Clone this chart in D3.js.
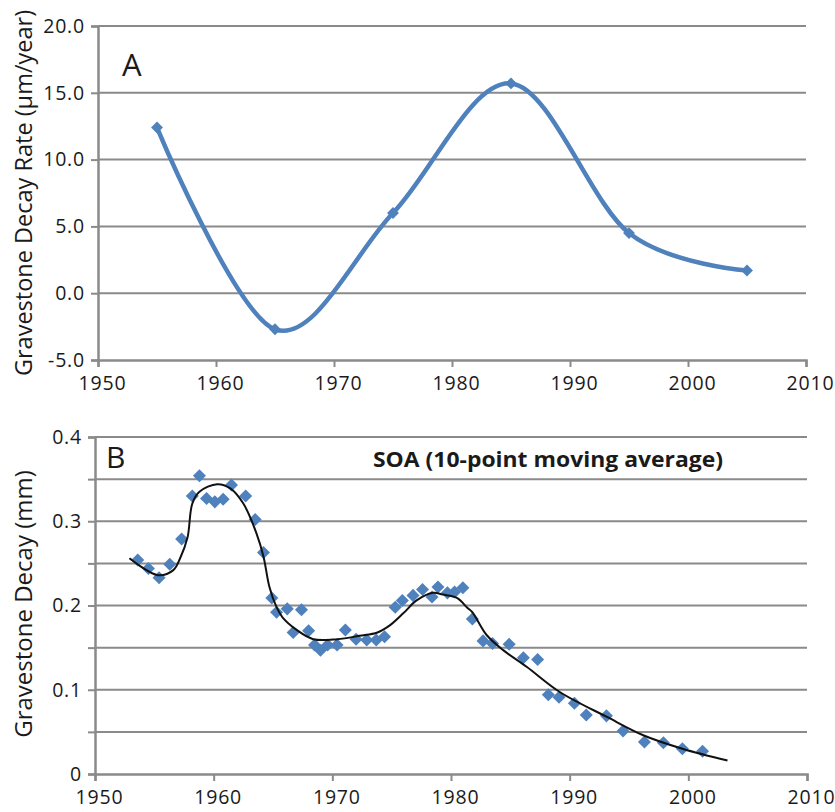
<!DOCTYPE html>
<html>
<head>
<meta charset="utf-8">
<script src="https://cdn.jsdelivr.net/npm/d3@7"></script>
<style>
  body { margin: 0; background: #fff; }
  text { font-family: "Open Sans", sans-serif; fill: #1a1a1a; }
</style>
</head>
<body>
<div id="chart"></div>
<script>
// panel A: decay rate, one value per decade midpoint
var yearsA = [1955, 1965, 1975, 1985, 1995, 2005];
var rateA = [12.4, -2.7, 6.0, 15.7, 4.5, 1.7];
var yTicksA = [-5, 0, 5, 10, 15, 20];
var yLabelsA = ["-5.0", "0.0", "5.0", "10.0", "15.0", "20.0"];

// panel B: SOA scatter points
var soaYears = [1953.6, 1954.5, 1955.4, 1956.3, 1957.3, 1958.2, 1958.8, 1959.4, 1960.1, 1960.8,
  1961.5, 1962.7, 1963.5, 1964.2, 1964.9, 1965.3, 1966.2, 1966.7, 1967.4, 1968.0,
  1968.5, 1969.0, 1969.6, 1970.4, 1971.1, 1972.0, 1972.9, 1973.7, 1974.4, 1975.3,
  1975.9, 1976.8, 1977.6, 1978.4, 1978.9, 1979.7, 1980.3, 1981.0, 1981.8, 1982.7,
  1983.5, 1984.9, 1986.1, 1987.3, 1988.2, 1989.1, 1990.4, 1991.4, 1993.1, 1994.5,
  1996.3, 1997.9, 1999.5, 2001.2];
var soaDecay = [0.254, 0.244, 0.233, 0.249, 0.279, 0.330, 0.354, 0.327, 0.323, 0.326,
  0.343, 0.330, 0.302, 0.263, 0.209, 0.192, 0.196, 0.168, 0.195, 0.170,
  0.153, 0.147, 0.153, 0.153, 0.171, 0.160, 0.159, 0.159, 0.163, 0.198,
  0.206, 0.212, 0.219, 0.210, 0.222, 0.215, 0.216, 0.221, 0.184, 0.158,
  0.155, 0.154, 0.138, 0.136, 0.094, 0.091, 0.084, 0.070, 0.069, 0.051,
  0.038, 0.037, 0.030, 0.027];

// panel B: moving average curve
var avgYears = [1952.9, 1955.3, 1956.6, 1957.2, 1957.8, 1958.2, 1958.8, 1960.3, 1961.4, 1962.5,
  1963.6, 1964.2, 1964.7, 1965.3, 1965.8, 1967.0, 1968.4, 1970.4, 1972.3, 1973.8,
  1974.9, 1976.0, 1977.1, 1978.5, 1979.3, 1980.5, 1981.4, 1981.8, 1983.0, 1984.4,
  1986.4, 1989.2, 1993.1, 1996.2, 1999.5, 2003.3];
var avgDecay = [0.256, 0.236, 0.242, 0.257, 0.281, 0.321, 0.335, 0.344, 0.339, 0.321,
  0.286, 0.258, 0.222, 0.198, 0.186, 0.171, 0.160, 0.160, 0.164, 0.168,
  0.177, 0.191, 0.206, 0.215, 0.213, 0.209, 0.197, 0.192, 0.165, 0.147,
  0.127, 0.097, 0.068, 0.046, 0.030, 0.016];
var yTicksB = [0, 0.05, 0.1, 0.15, 0.2, 0.25, 0.3, 0.35, 0.4];
var yLabelsB = ["0", "", "0.1", "", "0.2", "", "0.3", "", "0.4"];

var xTicks = [1950, 1960, 1970, 1980, 1990, 2000, 2010];

var blue = "#4f81bd";
var grid = "#8a8a8a";

var svg = d3.select("#chart")
  .append("svg")
  .attr("width", 835)
  .attr("height", 812)
  .style("background", "#fff");

// draws the frame shared by both panels
function frame(g, x, y, yTicks, yLabels) {
  var x0 = x.range()[0], x1 = x.range()[1];

  g.append("g").selectAll("line")
    .data(yTicks.slice(1))
    .join("line")
    .attr("x1", x0).attr("x2", x1)
    .attr("y1", function (d) { return y(d); })
    .attr("y2", function (d) { return y(d); })
    .attr("stroke", grid)
    .attr("stroke-width", 2);

  var ya = g.append("g")
    .attr("transform", "translate(" + x0 + ",0)")
    .call(d3.axisLeft(y).tickValues(yTicks).tickSize(7).tickPadding(6)
      .tickFormat(function (d, i) { return yLabels[i]; }));
  var xa = g.append("g")
    .attr("transform", "translate(0," + y.range()[0] + ")")
    .call(d3.axisBottom(x).tickValues(xTicks).tickSize(7).tickPadding(9)
      .tickFormat(d3.format("d")));
  xa.selectAll(".tick text").attr("dx", 4);

  [ya, xa].forEach(function (a) {
    a.select(".domain").attr("stroke", grid).attr("stroke-width", 2.5);
    a.selectAll(".tick line").attr("stroke", grid).attr("stroke-width", 2);
    a.selectAll(".tick text")
      .style("font-family", "'Open Sans', sans-serif")
      .style("font-size", "19.5px")
      .style("letter-spacing", "0.8px")
      .attr("fill", "#1a1a1a");
  });
}

// panel A
var xA = d3.scaleLinear().domain([1950, 2010]).range([98, 806]);
var yA = d3.scaleLinear().domain([-5, 20]).range([360, 26]);
var gA = svg.append("g");
frame(gA, xA, yA, yTicksA, yLabelsA);

var dataA = yearsA.map(function (yr, i) { return { x: yr, y: rateA[i] }; });
gA.append("path")
  .datum(dataA)
  .attr("fill", "none")
  .attr("stroke", blue)
  .attr("stroke-width", 4.5)
  .attr("stroke-linejoin", "round")
  .attr("d", d3.line()
    .x(function (d) { return xA(d.x); })
    .y(function (d) { return yA(d.y); })
    .curve(d3.curveCatmullRom.alpha(0)));

gA.append("g").selectAll("path")
  .data(dataA)
  .join("path")
  .attr("d", d3.symbol(d3.symbolSquare, 70))
  .attr("transform", function (d) { return "translate(" + xA(d.x) + "," + yA(d.y) + ") rotate(45)"; })
  .attr("fill", blue);

gA.append("text")
  .attr("x", 122).attr("y", 76)
  .style("font-size", "31px")
  .text("A");

gA.append("text")
  .attr("transform", "translate(32," + 193 + ") rotate(-90)")
  .attr("text-anchor", "middle")
  .style("font-size", "23.5px")
  .text("Gravestone Decay Rate (\u00b5m/year)");

// panel B
var xB = d3.scaleLinear().domain([1950, 2010]).range([95, 807]);
var yB = d3.scaleLinear().domain([0, 0.4]).range([774, 437]);
var gB = svg.append("g");
frame(gB, xB, yB, yTicksB, yLabelsB);

gB.append("g").selectAll("path")
  .data(soaYears)
  .join("path")
  .attr("d", d3.symbol(d3.symbolSquare, 85))
  .attr("transform", function (d, i) { return "translate(" + xB(d) + "," + yB(soaDecay[i]) + ") rotate(45)"; })
  .attr("fill", blue);

var dataB = avgYears.map(function (yr, i) { return { x: yr, y: avgDecay[i] }; });
gB.append("path")
  .datum(dataB)
  .attr("fill", "none")
  .attr("stroke", "#111")
  .attr("stroke-width", 2)
  .attr("d", d3.line()
    .x(function (d) { return xB(d.x); })
    .y(function (d) { return yB(d.y); })
    .curve(d3.curveCatmullRom.alpha(0.5)));

gB.append("text")
  .attr("x", 106).attr("y", 468)
  .style("font-size", "30px")
  .text("B");

gB.append("text")
  .attr("x", 373).attr("y", 467)
  .attr("textLength", 350)
  .attr("lengthAdjust", "spacingAndGlyphs")
  .style("font-size", "21px")
  .style("font-weight", "bold")
  .text("SOA (10-point moving average)");

gB.append("text")
  .attr("transform", "translate(32," + 604 + ") rotate(-90)")
  .attr("text-anchor", "middle")
  .style("font-size", "24px")
  .text("Gravestone Decay (mm)");
</script>
</body>
</html>
